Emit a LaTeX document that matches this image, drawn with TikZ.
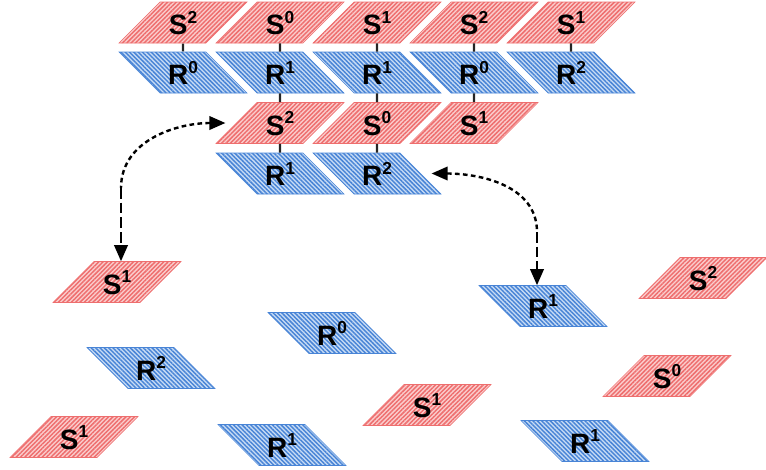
\documentclass[tikz,border=0pt]{standalone}
\usepackage{fontspec}
\setmainfont{Liberation Sans}
\usetikzlibrary{shapes.geometric,patterns.meta,arrows.meta,calc}
\definecolor{sred}{RGB}{238,110,110}
\definecolor{sredlt}{RGB}{251,205,205}
\definecolor{rblue}{RGB}{72,132,214}
\definecolor{rbluelt}{RGB}{200,220,245}
\tikzset{>={Triangle[length=12pt,width=10pt]}}
\tikzset{
  blk/.style={trapezium, trapezium stretches body, minimum width=96pt,
    text height=18pt, text depth=0pt, inner ysep=6.375pt, inner xsep=0pt,
    line width=0.4pt, font=\fontsize{21}{24}\selectfont\bfseries},
  sblk/.style={blk, trapezium left angle=45, trapezium right angle=135,
    draw=sred, preaction={fill=sredlt},
    pattern={Lines[angle=45,distance=2.3pt,line width=1.1pt]}, pattern color=sred},
  rblk/.style={blk, trapezium left angle=135, trapezium right angle=45,
    draw=rblue, preaction={fill=rbluelt},
    pattern={Lines[angle=-45,distance=2.3pt,line width=1.1pt]}, pattern color=rblue},
  link/.style={line width=1.6pt, black!85},
  curvy/.style={line width=1.8pt, dash pattern=on 3.5pt off 2.5pt},
  drop/.style={line width=1.8pt, dash pattern=on 8pt off 3pt},
}
\newcommand{\lab}[2]{#1\raisebox{8.5pt}{\fontsize{13}{14}\selectfont#2}}

\begin{document}
\begin{tikzpicture}[x=0.75pt,y=-0.75pt]
    \useasboundingbox (0,0) rectangle (766,469);
    % stacked rows
    \node[sblk] (s11) at (183,22.5) {\lab{S}{2}};
    \node[sblk] (s12) at (280,22.5) {\lab{S}{0}};
    \node[sblk] (s13) at (377,22.5) {\lab{S}{1}};
    \node[sblk] (s14) at (474,22.5) {\lab{S}{2}};
    \node[sblk] (s15) at (571,22.5) {\lab{S}{1}};
    \node[rblk] (r11) at (183,72.5) {\lab{R}{0}};
    \node[rblk] (r12) at (280,72.5) {\lab{R}{1}};
    \node[rblk] (r13) at (377,72.5) {\lab{R}{1}};
    \node[rblk] (r14) at (474,72.5) {\lab{R}{0}};
    \node[rblk] (r15) at (571,72.5) {\lab{R}{2}};
    \node[sblk] (s22) at (280,123) {\lab{S}{2}};
    \node[sblk] (s23) at (377,123) {\lab{S}{0}};
    \node[sblk] (s24) at (474,123) {\lab{S}{1}};
    \node[rblk] (r22) at (280,173.5) {\lab{R}{1}};
    \node[rblk] (r23) at (377,173.5) {\lab{R}{2}};
    \draw[link] (s11) -- (r11);
    \draw[link] (s12) -- (r12);
    \draw[link] (s13) -- (r13);
    \draw[link] (s14) -- (r14);
    \draw[link] (s15) -- (r15);
    \draw[link] (r12) -- (s22);
    \draw[link] (r13) -- (s23);
    \draw[link] (r14) -- (s24);
    \draw[link] (s22) -- (r22);
    \draw[link] (s23) -- (r23);
    % loose pieces
    \node[sblk] (l1) at (117,282) {\lab{S}{1}};
    \node[rblk] (l2) at (151,368) {\lab{R}{2}};
    \node[sblk] (l3) at (74,437) {\lab{S}{1}};
    \node[rblk] (l4) at (332,333) {\lab{R}{0}};
    \node[rblk] (l5) at (282,445) {\lab{R}{1}};
    \node[sblk] (l6) at (427,405) {\lab{S}{1}};
    \node[rblk] (l7) at (543,306) {\lab{R}{1}};
    \node[rblk] (l8) at (585,441) {\lab{R}{1}};
    \node[sblk] (l9) at (703,278) {\lab{S}{2}};
    \node[sblk] (l10) at (667,376) {\lab{S}{0}};
    % swaps
    \coordinate (kl) at (121,188);
    \coordinate (kr) at (537,232);
    \draw[curvy,<-] ([xshift=-8pt]s22.west) to[out=180,in=90] (kl);
    \draw[drop,->] (kl) -- (kl |- l1.north);
    \draw[curvy,<-] ([xshift=8pt]r23.east) to[out=0,in=90] (kr);
    \draw[drop,->] (kr) -- (kr |- l7.north);
\end{tikzpicture}
\end{document}
